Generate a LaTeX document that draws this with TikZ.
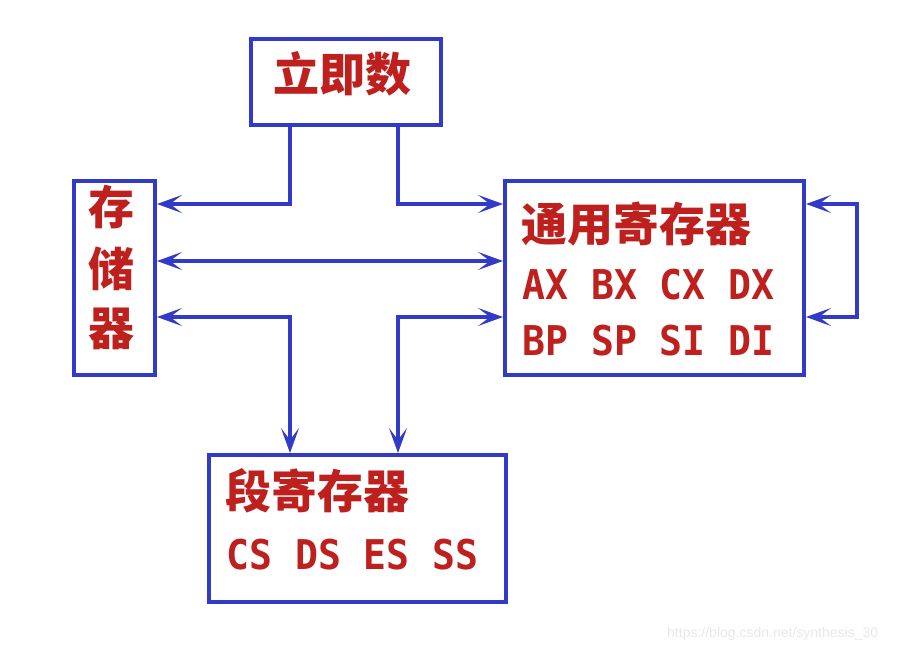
\documentclass[tikz,border=0pt]{standalone}
\usepackage{fontspec}
\usepackage{tikz}
\usetikzlibrary{arrows.meta,positioning,calc}
\newfontfamily\cjk{Noto Sans CJK SC}
\newfontfamily\regfont{DejaVu Sans Mono}[FakeStretch=0.93]
\setsansfont{Liberation Sans}
\definecolor{cbus}{RGB}{50,58,200}
\definecolor{ctxt}{RGB}{190,32,30}

\begin{document}
\begin{tikzpicture}[x=1pt,y=-1pt,
    >={Stealth[length=25pt,width=18pt,inset=12pt]},
    unit/.style={draw=cbus, line width=4pt, inner sep=0pt},
    bus/.style={cbus, line width=3.5pt},
    hz/.style={text=ctxt, inner sep=0pt, font=\cjk\bfseries\fontsize{46}{46}\selectfont},
    reg/.style={text=ctxt, inner sep=0pt, anchor=west, font=\regfont\bfseries\fontsize{41}{41}\selectfont}]
    \useasboundingbox (0,0) rectangle (916,652);
    % boxes
    \node[unit, minimum width=190pt, minimum height=86pt]  (imm) at (346,82) {};
    \node[unit, minimum width=81pt,  minimum height=194pt] (mem) at (114.5,278) {};
    \node[unit, minimum width=299pt, minimum height=194pt] (gpr) at (654.5,278) {};
    \node[unit, minimum width=297pt, minimum height=147pt] (seg) at (357.5,528.5) {};
    % labels
    \node[hz] (immtxt) at (342,74) {立即数};
    \node[hz] (memtxt1) at (111,207.5) {存};
    \node[hz] (memtxt2) at (111,269) {储};
    \node[hz] (memtxt3) at (111,328.5) {器};
    \node[hz, anchor=west] (gprtxt) at (521,224) {通用寄存器};
    \node[reg] (gpra) at (522,284.5) {AX BX CX DX};
    \node[reg] (gprb) at (522,340.5) {BP SP SI DI};
    \node[hz, anchor=west] (segtxt) at (225,491) {段寄存器};
    \node[reg] (sega) at (226,554.5) {CS DS ES SS};
    \node[text=gray!18, inner sep=0pt, anchor=west, font=\sffamily\fontsize{14}{14}\selectfont]
         (mark) at (667,634) {https://blog.csdn.net/synthesis\_30};
    % bus lines
    \coordinate (xl) at (290,0);
    \coordinate (xr) at (398,0);
    \coordinate (r1) at (0,204);
    \coordinate (r2) at (0,261);
    \coordinate (r3) at (0,317);
    \draw[bus,->] (imm.south -| xl) |- (mem.east |- r1);
    \draw[bus,->] (imm.south -| xr) |- (gpr.west |- r1);
    \draw[bus,<->] (mem.east |- r2) -- (gpr.west |- r2);
    \draw[bus,<->] (mem.east |- r3) -| (seg.north -| xl);
    \draw[bus,<->] (gpr.west |- r3) -| (seg.north -| xr);
    \draw[bus,<->] (gpr.east |- r1) -- ++(51,0) |- (gpr.east |- r3);
\end{tikzpicture}
\end{document}
